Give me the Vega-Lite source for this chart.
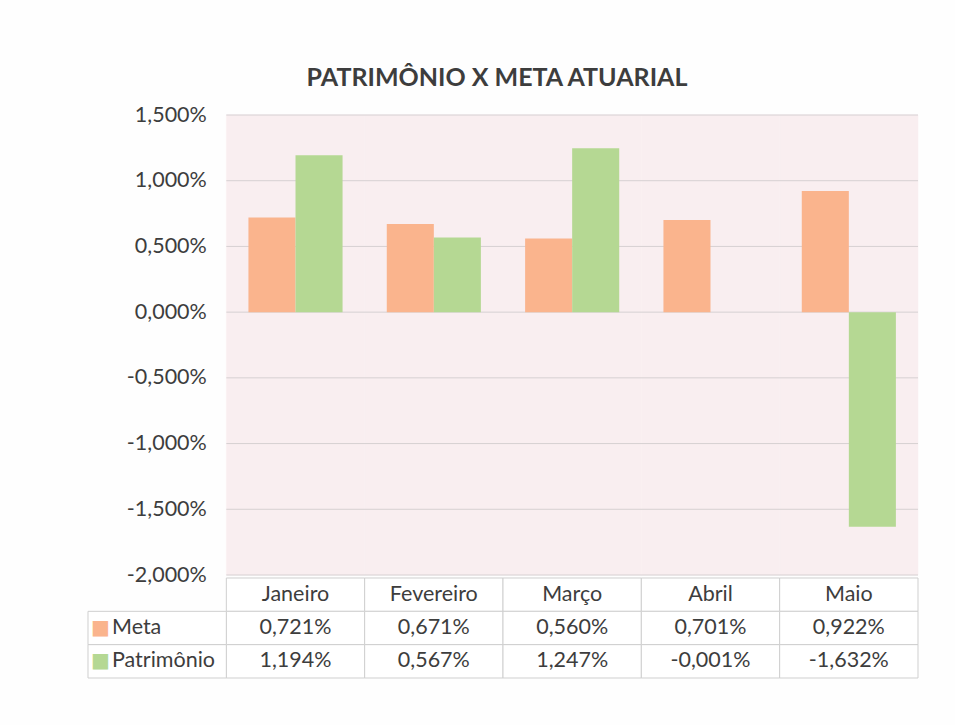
{
  "$schema": "https://vega.github.io/schema/vega-lite/v6.json",
  "autosize": "none",
  "width": 830,
  "height": 563,
  "padding": {"left": 88, "top": 115, "right": 37, "bottom": 47},
  "background": "#fefefe",
  "config": {
    "view": {"stroke": null},
    "font": "Lato",
    "text": {"font": "Lato", "fontSize": 21.5, "color": "#3d3d3d"}
  },
  "title": {
    "text": "PATRIMÔNIO X META ATUARIAL",
    "font": "Lato",
    "fontSize": 25,
    "fontWeight": "bold",
    "color": "#3d3d3d",
    "anchor": "middle",
    "baseline": "alphabetic",
    "offset": -7,
    "dx": -6
  },
  "datasets": {
    "vals": [
      {"mes": "Janeiro", "serie": "Meta", "valor": 0.721},
      {"mes": "Fevereiro", "serie": "Meta", "valor": 0.671},
      {"mes": "Março", "serie": "Meta", "valor": 0.560},
      {"mes": "Abril", "serie": "Meta", "valor": 0.701},
      {"mes": "Maio", "serie": "Meta", "valor": 0.922},
      {"mes": "Janeiro", "serie": "Patrimônio", "valor": 1.194},
      {"mes": "Fevereiro", "serie": "Patrimônio", "valor": 0.567},
      {"mes": "Março", "serie": "Patrimônio", "valor": 1.247},
      {"mes": "Abril", "serie": "Patrimônio", "valor": -0.001},
      {"mes": "Maio", "serie": "Patrimônio", "valor": -1.632}
    ],
    "meses": [
      {"mes": "Janeiro"}, {"mes": "Fevereiro"}, {"mes": "Março"}, {"mes": "Abril"}, {"mes": "Maio"}
    ],
    "series": [{"serie": "Meta"}, {"serie": "Patrimônio"}],
    "grade": [
      {"g": -2.0}, {"g": -1.5}, {"g": -1.0}, {"g": -0.5}, {"g": 0.0}, {"g": 0.5}, {"g": 1.0}, {"g": 1.5}
    ]
  },
  "resolve": {"scale": {"y": "independent"}},
  "layer": [
    {
      "layer": [
        {
          "data": {"name": "meses"},
          "mark": {"type": "rect", "fill": "#f9eef0", "stroke": "#f9eef0", "strokeWidth": 0.5},
          "encoding": {
            "x": {"field": "mes", "type": "nominal", "axis": null,
                  "scale": {"domain": ["", "Janeiro", "Fevereiro", "Março", "Abril", "Maio"], "paddingInner": 0, "paddingOuter": 0}},
            "y": {"datum": 1.5, "type": "quantitative"},
            "y2": {"datum": -2}
          }
        },
        {
          "data": {"name": "grade"},
          "mark": {"type": "rule", "color": "#d6d0d2", "strokeWidth": 1},
          "encoding": {
            "x": {"datum": "Janeiro", "type": "nominal", "bandPosition": 0},
            "x2": {"datum": "Maio", "bandPosition": 1},
            "y": {"field": "g", "type": "quantitative"}
          }
        },
        {
          "data": {"name": "vals"},
          "mark": {"type": "bar"},
          "encoding": {
            "x": {"field": "mes", "type": "nominal"},
            "xOffset": {"field": "serie", "type": "nominal",
                        "scale": {"domain": ["Meta", "Patrimônio"], "paddingInner": 0, "paddingOuter": 0.47}},
            "y": {"field": "valor", "type": "quantitative",
                  "scale": {"domain": [-2, 1.5], "range": [460, 0], "nice": false, "zero": false},
                  "axis": {"title": null, "grid": false, "domain": false, "ticks": false,
                           "values": [-2, -1.5, -1, -0.5, 0, 0.5, 1, 1.5],
                           "labelExpr": "replace(replace(format(datum.value, '.3f'), '.', ','), '\u2212', '-') + '%'",
                           "labelFont": "Lato", "labelFontSize": 21.5, "labelColor": "#3d3d3d",
                           "labelPadding": 20, "offset": -138.33}},
            "color": {"field": "serie", "type": "nominal", "legend": null,
                      "scale": {"domain": ["Meta", "Patrimônio"], "range": ["#fab48d", "#b5d893"]}}
          }
        }
      ]
    },
    {
      "layer": [
        {
          "data": {"name": "meses"},
          "mark": {"type": "rect", "fill": "#ffffff", "stroke": "#cfcfcf", "strokeWidth": 1},
          "encoding": {
            "x": {"field": "mes", "type": "nominal"},
            "y": {"datum": "hdr", "type": "nominal",
                  "scale": {"domain": ["hdr", "Meta", "Patrimônio"], "range": [463, 563], "paddingInner": 0, "paddingOuter": 0},
                  "axis": null}
          }
        },
        {
          "data": {"name": "vals"},
          "mark": {"type": "rect", "fill": "#ffffff", "stroke": "#cfcfcf", "strokeWidth": 1},
          "encoding": {
            "x": {"field": "mes", "type": "nominal"},
            "y": {"field": "serie", "type": "nominal"}
          }
        },
        {
          "data": {"name": "series"},
          "mark": {"type": "rect", "fill": "#ffffff", "stroke": "#cfcfcf", "strokeWidth": 1},
          "encoding": {
            "x": {"datum": "", "type": "nominal"},
            "y": {"field": "serie", "type": "nominal"}
          }
        },
        {
          "data": {"name": "meses"},
          "mark": {"type": "text", "align": "center", "baseline": "middle"},
          "encoding": {
            "x": {"field": "mes", "type": "nominal"},
            "y": {"datum": "hdr", "type": "nominal"},
            "text": {"field": "mes"}
          }
        },
        {
          "data": {"name": "vals"},
          "transform": [{"calculate": "replace(replace(format(datum.valor, '.3f'), '.', ','), '\u2212', '-') + '%'", "as": "txt"}],
          "mark": {"type": "text", "align": "center", "baseline": "middle"},
          "encoding": {
            "x": {"field": "mes", "type": "nominal"},
            "y": {"field": "serie", "type": "nominal"},
            "text": {"field": "txt"}
          }
        },
        {
          "data": {"name": "series"},
          "mark": {"type": "text", "align": "left", "baseline": "middle", "dx": 24},
          "encoding": {
            "x": {"datum": "", "type": "nominal", "bandPosition": 0},
            "y": {"field": "serie", "type": "nominal"},
            "text": {"field": "serie"}
          }
        },
        {
          "data": {"name": "series"},
          "mark": {"type": "text", "align": "left", "baseline": "middle", "dx": 3, "text": "■", "font": "DejaVu Sans", "fontSize": 20},
          "encoding": {
            "x": {"datum": "", "type": "nominal", "bandPosition": 0},
            "y": {"field": "serie", "type": "nominal"},
            "color": {"field": "serie", "type": "nominal"}
          }
        }
      ]
    }
  ]
}
